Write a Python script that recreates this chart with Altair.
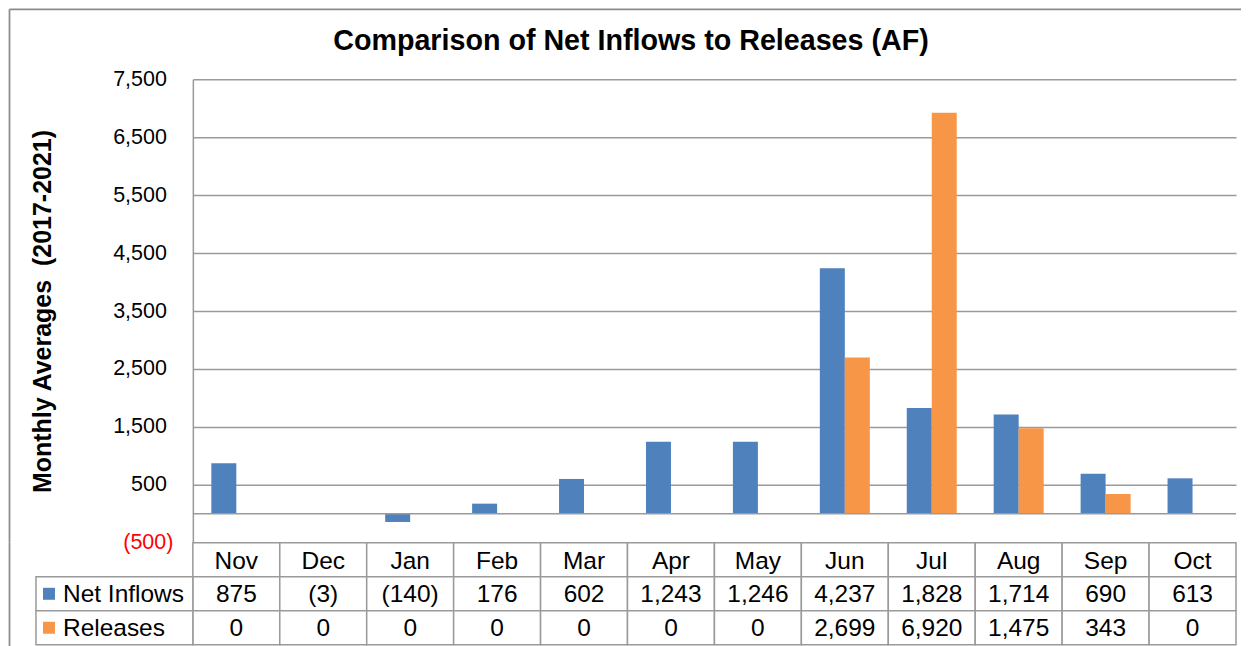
import altair as alt
import pandas as pd

# ---------------- data ----------------
months = ["Nov", "Dec", "Jan", "Feb", "Mar", "Apr", "May", "Jun", "Jul", "Aug", "Sep", "Oct"]
series = ["Net Inflows", "Releases"]
net_inflows = [875, -3, -140, 176, 602, 1243, 1246, 4237, 1828, 1714, 690, 613]
releases = [0, 0, 0, 0, 0, 0, 0, 2699, 6920, 1475, 343, 0]
colors = ["#4F81BD", "#F79646"]
y_ticks = [-500, 500, 1500, 2500, 3500, 4500, 5500, 6500, 7500]
title_text = "Comparison of Net Inflows to Releases (AF)"
y_title = "Monthly Averages\u00a0 (2017-2021)"
header_row = "hdr"

FONT = "Liberation Sans"
GRID = "#9a9a9a"
FRAME = "#8c8c8c"
PLOT_W = 1044
PLOT_H = 464
TABLE_H = 102


def fmt(v):
    return f"({abs(v):,})" if v < 0 else f"{v:,}"


rows = []
for s, vals in zip(series, [net_inflows, releases]):
    for m, v in zip(months, vals):
        rows.append({"month": m, "series": s, "value": v})
bar_df = pd.DataFrame(rows)

cells = [{"row": header_row, "month": m, "label": m} for m in months]
for s, vals in zip(series, [net_inflows, releases]):
    for m, v in zip(months, vals):
        cells.append({"row": s, "month": m, "label": fmt(v)})
cell_df = pd.DataFrame(cells)
series_df = pd.DataFrame({"row": series, "series": series})
one_df = pd.DataFrame({"value": [0]})
title_df = pd.DataFrame({"t": [title_text]})

# ---------------- bar panel ----------------
x_bar = alt.X("month:N", sort=months,
              scale=alt.Scale(domain=months, paddingInner=0.425, paddingOuter=0.2125),
              axis=None)
y_scale = alt.Scale(domain=[-500, 7500], nice=False, zero=False)
y_axis = alt.Axis(
    values=y_ticks,
    labelExpr="datum.value < 0 ? '(' + format(-datum.value, ',') + ')' : format(datum.value, ',')",
    labelColor={"condition": {"test": "datum.value < 0", "value": "#FF0000"}, "value": "#000000"},
    labelPadding={"condition": {"test": "datum.value < 0", "value": 20}, "value": 26.5},
    labelFont=FONT, labelFontSize=21.5,
    ticks=False, domainColor=GRID, domainWidth=1.5,
    gridColor=GRID, gridWidth=1.5,
    title=y_title, titleFont=FONT, titleFontSize=25, titleFontWeight="bold",
    titleColor="#000000", titlePadding=57,
)

bars = alt.Chart(bar_df).mark_bar().encode(
    x=x_bar,
    xOffset=alt.XOffset("series:N", sort=series,
                        scale=alt.Scale(domain=series, paddingInner=0, paddingOuter=0)),
    y=alt.Y("value:Q", scale=y_scale, axis=y_axis),
    color=alt.Color("series:N", scale=alt.Scale(domain=series, range=colors), legend=None),
)

zero_line = alt.Chart(one_df).mark_rule(color=GRID, strokeWidth=1.5).encode(
    y=alt.Y("value:Q", scale=y_scale, axis=y_axis)
)

title = alt.Chart(title_df).mark_text(
    font=FONT, fontSize=28.7, fontWeight="bold", align="center", baseline="alphabetic", color="#000000"
).encode(x=alt.value(438.5), y=alt.value(-29), text="t:N")

frame_top = alt.Chart(one_df).mark_rule(color=FRAME, strokeWidth=1.75).encode(
    x=alt.value(-183.5), x2=alt.value(1049), y=alt.value(-70)
)
frame_left_top = alt.Chart(one_df).mark_rule(color=FRAME, strokeWidth=1.75).encode(
    x=alt.value(-183.5), y=alt.value(-70), y2=alt.value(PLOT_H)
)

top = alt.layer(bars, zero_line, title, frame_top, frame_left_top).properties(
    width=PLOT_W, height=PLOT_H
)

# ---------------- data table panel ----------------
x_tab = alt.X("month:N", sort=months,
              scale=alt.Scale(domain=months, paddingInner=0, paddingOuter=0), axis=None)
y_tab = alt.Y("row:N", sort=[header_row] + series,
              scale=alt.Scale(domain=[header_row] + series, paddingInner=0, paddingOuter=0),
              axis=None)

cell_rects = alt.Chart(cell_df).mark_rect(fill="white", stroke=GRID, strokeWidth=1.5).encode(
    x=x_tab, y=y_tab
)
label_rects = alt.Chart(series_df).mark_rect(fill="white", stroke=GRID, strokeWidth=1.5).encode(
    x=alt.value(-157), x2=alt.value(0), y=y_tab
)
cell_text = alt.Chart(cell_df).mark_text(
    font=FONT, fontSize=24.5, align="center", baseline="alphabetic", dy=8.7, color="#000000"
).encode(x=x_tab, y=y_tab, text="label:N")
swatches = alt.Chart(series_df).mark_square(size=144, opacity=1, strokeWidth=0).encode(
    x=alt.value(-144), y=y_tab,
    color=alt.Color("series:N", scale=alt.Scale(domain=series, range=colors), legend=None),
)
row_labels = alt.Chart(series_df).mark_text(
    font=FONT, fontSize=24.5, align="left", baseline="alphabetic", dy=8.7, color="#000000"
).encode(x=alt.value(-130), y=y_tab, text="series:N")
frame_left_bot = alt.Chart(one_df).mark_rule(color=FRAME, strokeWidth=1.75).encode(
    x=alt.value(-183.5), y=alt.value(0), y2=alt.value(TABLE_H + 2)
)

bottom = alt.layer(cell_rects, label_rects, cell_text, swatches, row_labels, frame_left_bot).properties(
    width=PLOT_W, height=TABLE_H
)

chart = alt.vconcat(top, bottom, spacing=0, bounds="flush").configure_view(
    stroke=None
).properties(
    padding={"left": 0, "top": 0, "right": 0, "bottom": 0},
    background="white",
)

chart.save("out.html", embed_options={"renderer": "svg", "actions": False})
